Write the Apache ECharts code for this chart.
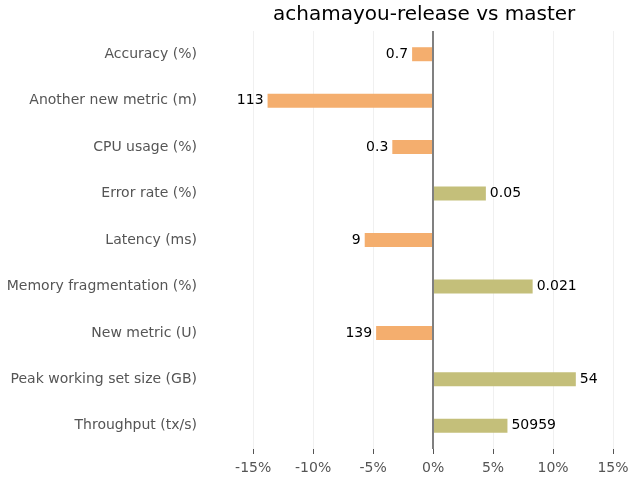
<!DOCTYPE html>
<html><head><meta charset="utf-8">
<script src="https://cdn.jsdelivr.net/npm/echarts@6/dist/echarts.min.js"></script>
<style>html,body{margin:0;padding:0;background:#fff}#c{width:640px;height:480px}</style>
</head><body><div id="c"></div>
<script>
const categories = ['Accuracy (%)','Another new metric (m)','CPU usage (%)','Error rate (%)','Latency (ms)','Memory fragmentation (%)','New metric (U)','Peak working set size (GB)','Throughput (tx/s)'];
const pctChange = [-1.75, -13.8, -3.4, 4.4, -5.7, 8.3, -4.75, 11.9, 6.2];
const valueLabels = ['0.7','113','0.3','0.05','9','0.021','139','54','50959'];
const xTicks = [-15,-10,-5,0,5,10,15];
const titleText = 'achamayou-release vs master';

const negColor = '#f4ae6e', posColor = '#c4bf7a';
const font = 'DejaVu Sans';
const chart = echarts.init(document.getElementById('c'));
chart.setOption({
  animation: false,
  title: {text: titleText, left: 268, top: 0, textStyle: {fontFamily: font, fontSize: 20, fontWeight: 'normal', color: '#000'}},
  grid: {left: 210, right: 15, top: 31, bottom: 31, containLabel: false},
  xAxis: {
    type: 'value', min: -18.6, max: 16,
    axisLine: {show: false},
    axisTick: {show: true, customValues: xTicks, length: 5, lineStyle: {color: '#555'}},
    axisLabel: {customValues: xTicks, formatter: v => Math.round(v) + '%', fontFamily: font, fontSize: 14, color: '#555', margin: 12},
    splitLine: {show: true, lineStyle: {color: '#f0f0f0', width: 1}}
  },
  yAxis: {
    type: 'category', data: categories, inverse: true,
    axisLine: {show: false}, axisTick: {show: false},
    axisLabel: {fontFamily: font, fontSize: 14, color: '#555', margin: 13}
  },
  series: [{
    type: 'bar', barWidth: 14,
    data: pctChange.map((v, i) => ({
      value: v,
      itemStyle: {color: v < 0 ? negColor : posColor},
      label: {show: true, position: v < 0 ? 'left' : 'right', distance: 4,
        formatter: () => valueLabels[i], fontFamily: font, fontSize: 14, color: '#000'}
    })),
    markLine: {
      silent: true, symbol: 'none', label: {show: false},
      lineStyle: {color: '#808080', width: 2, type: 'solid'},
      data: [{xAxis: 0}]
    }
  }]
});
</script></body></html>
